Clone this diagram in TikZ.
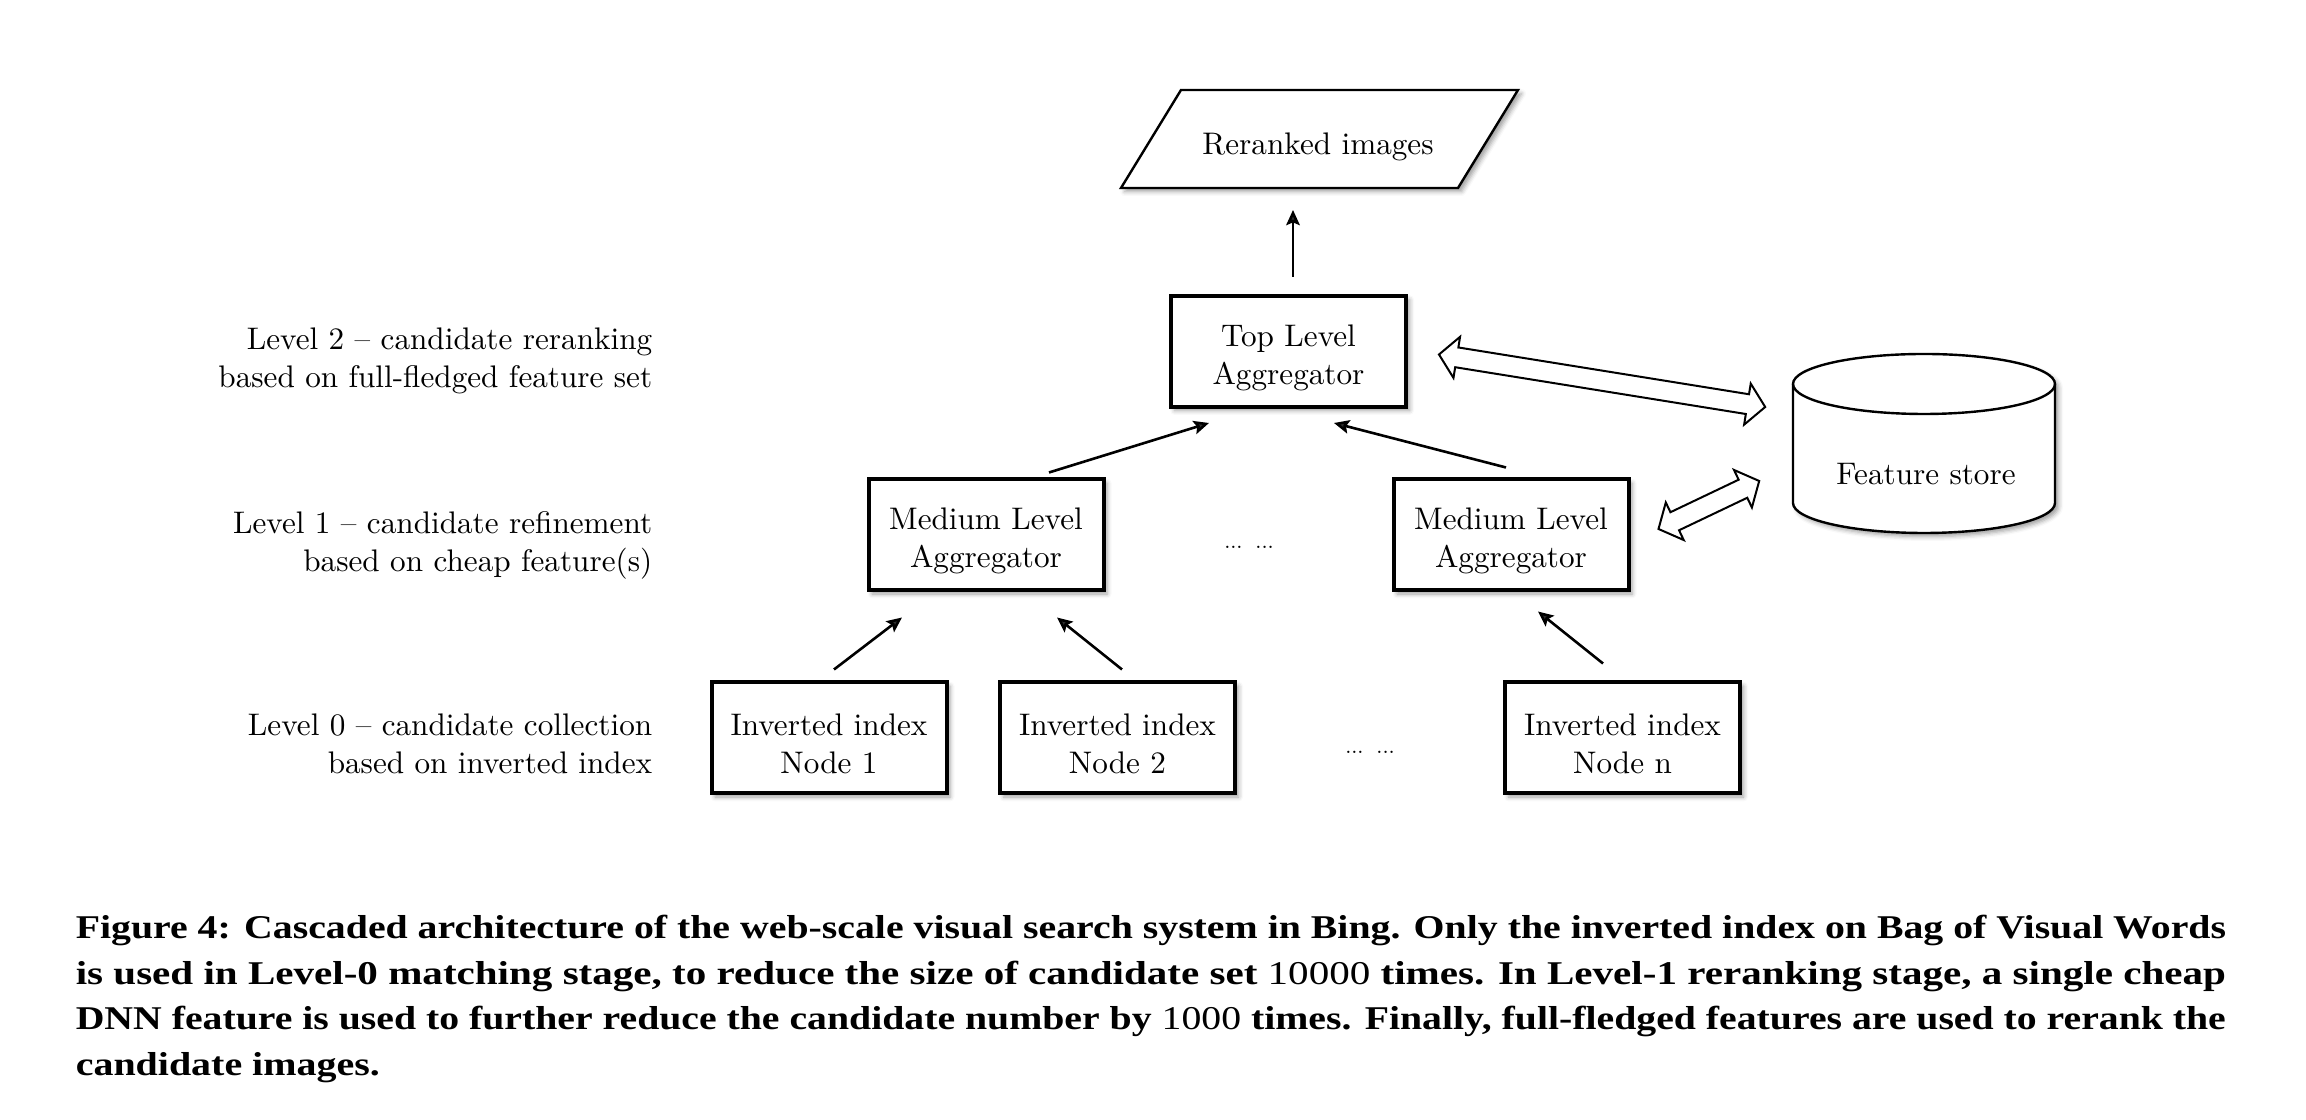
\documentclass[tikz,border=0pt]{standalone}
\usepackage{fontspec}
\usepackage{graphicx}
\setmainfont{lmroman10-regular.otf}[BoldFont=lmroman10-bold.otf]
\newfontfamily\capfont{Liberation Serif}
\usetikzlibrary{calc,arrows.meta,shadows,shadows.blur}
\newcommand\hollowdbl[2]{%
  \coordinate (#1h) at ($(#1)!4.5pt!(#2)$);
  \coordinate (#2h) at ($(#2)!4.5pt!(#1)$);
  \draw[dblarr] (#1) -- ($(#1h)!5.2pt!90:(#2)$) -- ($(#1h)!2.5pt!90:(#2)$)
    -- ($(#2h)!2.5pt!-90:(#1)$) -- ($(#2h)!5.2pt!-90:(#1)$) -- (#2)
    -- ($(#2h)!5.2pt!90:(#1)$) -- ($(#2h)!2.5pt!90:(#1)$)
    -- ($(#1h)!2.5pt!-90:(#2)$) -- ($(#1h)!5.2pt!-90:(#2)$) -- cycle;
}
\begin{document}
\begin{tikzpicture}[x=0.25pt,y=-0.25pt,
  txt/.style={font=\fontsize{7.8}{9.5}\selectfont},
  shad/.style={blur shadow={shadow xshift=0.9pt, shadow yshift=-0.9pt, shadow blur radius=1.1pt, shadow opacity=38}},
  box/.style={draw, line width=1pt, fill=white, minimum width=58.75pt, minimum height=27.75pt,
    inner sep=0pt, shad},
  boxtxt/.style={txt, align=center, inner sep=0pt, yshift=-1.5pt},
  lbl/.style={txt, align=right, anchor=east, inner sep=0pt},
  arr/.style={-{Stealth[length=3.8pt,width=3.4pt,inset=0.7pt]}, line width=0.65pt},
  dblarr/.style={line width=0.5pt, fill=white, line join=miter},
  dotsl/.style={font=\fontsize{5.5}{6}\selectfont, inner sep=0pt},
  capl/.style={anchor=base west, inner sep=0pt, font=\capfont\bfseries\fontsize{8.3}{10}\selectfont}
]
\useasboundingbox (0,0) rectangle (2306,1120);

% Level labels
\node[lbl] (lv2) at (653,360.5) {Level 2 \textendash{} candidate reranking\\based on full-fledged feature set};
\node[lbl] (lv1) at (653,545.5) {Level 1 \textendash{} candidate refinement\\based on cheap feature(s)};
\node[lbl] (lv0) at (653,744) {Level 0 \textendash{} candidate collection\\based on inverted index};

% Output parallelogram
\coordinate (outc) at (1319.5,139);
\path[fill=white, shad] ($(outc)+(-138.5,-49)$) -- ($(outc)+(198.5,-49)$) -- ($(outc)+(138.5,49)$) -- ($(outc)+(-198.5,49)$) -- cycle;
\draw[line width=0.6pt, line join=miter] ($(outc)+(-138.5,-49)$) -- ($(outc)+(198.5,-49)$) -- ($(outc)+(138.5,49)$) -- ($(outc)+(-198.5,49)$) -- cycle;
\node[txt, inner sep=0pt] (out) at (1318,147) {Reranked images};

% Boxes
\node[box, label={[boxtxt]center:{Top Level\\Aggregator}}] (ta) at (1288.5,351.5) {};
\node[box, label={[boxtxt]center:{Medium Level\\Aggregator}}] (ml) at (986,535) {};
\node[box, label={[boxtxt]center:{Medium Level\\Aggregator}}] (mr) at (1511,535) {};
\node[box, label={[boxtxt]center:{Inverted index\\Node 1}}] (n1) at (829,738) {};
\node[box, label={[boxtxt]center:{Inverted index\\Node 2}}] (n2) at (1117.5,738) {};
\node[box, label={[boxtxt]center:{Inverted index\\Node n}}] (nn) at (1622.5,738) {};

\node[dotsl] (d1) at (1249,547) {...\hspace{3.2pt}...};
\node[dotsl] (d0) at (1370,752) {...\hspace{3.2pt}...};

% Feature store cylinder
\node[minimum width=65.5pt, minimum height=44.75pt, inner sep=0pt] (fs) at (1924,443) {};
\path[fill=white, shad] ($(fs.center)+(-131,-59)$) -- ($(fs.center)+(-131,60)$)
  arc[start angle=180, end angle=360, x radius=32.75pt, y radius=7.5pt]
  -- ($(fs.center)+(131,-59)$)
  arc[start angle=0, end angle=180, x radius=32.75pt, y radius=7.5pt] -- cycle;
\draw[line width=0.6pt] ($(fs.center)+(-131,-59)$) -- ($(fs.center)+(-131,60)$)
  arc[start angle=180, end angle=360, x radius=32.75pt, y radius=7.5pt]
  -- ($(fs.center)+(131,-59)$);
\draw[line width=0.6pt] ($(fs.center)+(0,-59)$) ellipse[x radius=32.75pt, y radius=7.5pt];
\node[txt] (fst) at (1926,474) {Feature store};

% Arrows
\draw[arr] ($(ta.north)+(4.5,-17)$) -- ($(outc)+(-26.5,71)$);
\draw[arr] ($(ml.north)+(63,-5)$) -- ($(ta.south)+(-79.5,14)$);
\draw[arr] ($(mr.north)+(-5,-10)$) -- ($(ta.south)+(45.5,14)$);
\draw[arr] ($(n1.north)+(5,-11)$) -- ($(ml.south)+(-84,25)$);
\draw[arr] ($(n2.north)+(4.5,-11)$) -- ($(ml.south)+(71,25)$);
\draw[arr] ($(nn.north)+(-19.5,-17)$) -- ($(mr.south)+(27,19)$);

% Hollow double arrows
\coordinate (u1) at ($(ta.east)+(31,3)$);
\coordinate (u2) at ($(fs.west)+(-27,-36)$);
\coordinate (w1) at ($(mr.east)+(28,-6)$);
\coordinate (w2) at ($(fs.west)+(-33,38)$);
\hollowdbl{u1}{u2}
\hollowdbl{w1}{w2}

% Caption
\node[capl] (c1) at (75,939) {\resizebox{537.5pt}{\height}{Figure 4: Cascaded architecture of the web-scale visual search system in Bing. Only the inverted index on Bag of Visual Words}};
\node[capl] (c2) at (75,984.5) {\resizebox{537.5pt}{\height}{is used in Level-0 matching stage, to reduce the size of candidate set {\mdseries 10000} times. In Level-1 reranking stage, a single cheap}};
\node[capl] (c3) at (75,1030) {\resizebox{537.5pt}{\height}{DNN feature is used to further reduce the candidate number by {\mdseries 1000} times. Finally, full-fledged features are used to rerank the}};
\node[capl] (c4) at (75,1076) {\resizebox{76pt}{\height}{candidate images.}};
\end{tikzpicture}
\end{document}
